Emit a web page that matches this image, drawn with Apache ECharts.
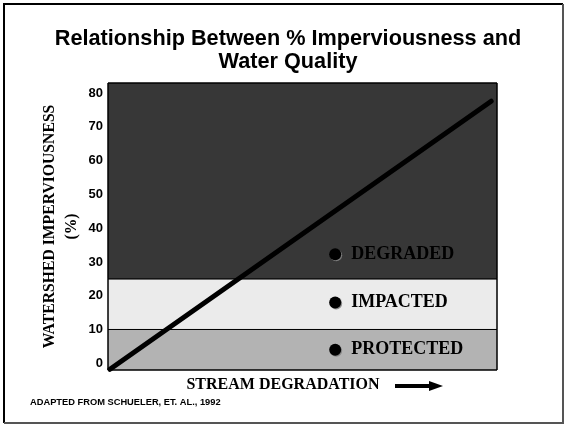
<!DOCTYPE html>
<html><head><meta charset="utf-8">
<script src="https://cdn.jsdelivr.net/npm/echarts@6/dist/echarts.min.js"></script>
<style>html,body{margin:0;padding:0;background:#fff}#c{width:565px;height:424px}</style>
</head><body><div id="c"></div>
<script>
// Zone bands (watershed imperviousness %)
const zoneNames = ['PROTECTED', 'IMPACTED', 'DEGRADED'];
const zoneFrom = [-2, 10, 25];
const zoneTo = [10, 25, 83];
const zoneColors = ['#b3b3b3', '#ebebeb', '#373737'];
// Label bullets (x position along stream degradation, y %)
const bulletX = [58.4, 58.4, 58.4];
const bulletY = [4, 18, 32.3];
// Trend line
const lineX = [0.5, 98.5];
const lineY = [-1.8, 77.6];
// Tick labels
const yTicks = [0, 10, 20, 30, 40, 50, 60, 70, 80];

const chart = echarts.init(document.getElementById('c'), null, {renderer: 'canvas'});
const times = '"Liberation Serif", "DejaVu Serif", serif';
const arial = '"Liberation Sans", Arial, sans-serif';

chart.setOption({
  animation: false,
  title: {
    text: 'Relationship Between % Imperviousness and\nWater Quality',
    left: 283, top: 23, textAlign: 'center',
    textStyle: {fontFamily: arial, fontWeight: 'bold', fontSize: 21.7, lineHeight: 23, color: '#000'}
  },
  grid: {left: 108, top: 83, right: 68, bottom: 54, show: true, borderColor: '#000', borderWidth: 1, z: 5},
  xAxis: {
    type: 'value', min: 0, max: 100,
    axisLine: {show: false}, axisTick: {show: false}, axisLabel: {show: false}, splitLine: {show: false},
    name: 'STREAM DEGRADATION', nameLocation: 'middle', nameGap: 7, nameMoveOverlap: false,
    nameTextStyle: {fontFamily: times, fontWeight: 'bold', fontSize: 16, color: '#000', padding: [0, 39, 0, 0]}
  },
  yAxis: {
    type: 'value', min: -2, max: 83,
    axisLine: {show: false}, axisTick: {show: false}, splitLine: {show: false},
    axisLabel: {customValues: yTicks, fontFamily: arial, fontWeight: 'bold', fontSize: 13, color: '#000', margin: 5},
    name: 'WATERSHED IMPERVIOUSNESS\n(%)', nameLocation: 'middle', nameRotate: 90, nameGap: 25, nameMoveOverlap: false,
    nameTextStyle: {fontFamily: times, fontWeight: 'bold', fontSize: 15.7, lineHeight: 22, color: '#000'}
  },
  series: [
    {
      type: 'line', data: [], z: 1,
      markArea: {
        silent: true,
        itemStyle: {borderColor: '#000', borderWidth: 1},
        data: zoneNames.map((n, i) => [
          {yAxis: zoneFrom[i], itemStyle: {color: zoneColors[i], borderColor: '#000', borderWidth: 1}},
          {yAxis: zoneTo[i]}
        ])
      }
    },
    {
      type: 'line', z: 3, clip: false, symbol: 'none',
      data: lineX.map((x, i) => [x, lineY[i]]),
      lineStyle: {color: '#000', width: 5, cap: 'round'}
    },
    {
      type: 'scatter', z: 4, symbol: 'circle', symbolSize: 12,
      data: zoneNames.map((n, i) => ({value: [bulletX[i], bulletY[i]], name: n})),
      itemStyle: {color: '#000', opacity: 1, shadowColor: 'rgba(130,130,130,0.9)', shadowOffsetX: 1, shadowOffsetY: 1},
      label: {
        show: true, position: 'right', distance: 10, formatter: p => p.name,
        fontFamily: times, fontWeight: 'bold', fontSize: 18, color: '#000',
        textShadowColor: 'rgba(120,120,120,0.8)', textShadowOffsetX: 1, textShadowOffsetY: 1
      }
    }
  ],
  graphic: [
    {type: 'polyline', shape: {points: [[4, 423], [4, 4], [563, 4]]}, style: {stroke: '#000', lineWidth: 2, fill: null}},
    {type: 'polyline', shape: {points: [[563, 4], [563, 423], [4, 423]]}, style: {stroke: '#555', lineWidth: 2, fill: null}},
    {type: 'rect', shape: {x: 395, y: 384, width: 36, height: 4}, style: {fill: '#000'}},
    {type: 'polygon', shape: {points: [[429, 381], [443, 386], [429, 391]]}, style: {fill: '#000'}},
    {type: 'text', left: 30, top: 398,
     style: {text: 'ADAPTED FROM SCHUELER, ET. AL., 1992', font: 'bold 9.3px "Liberation Sans", Arial, sans-serif', fill: '#000'}}
  ]
});
</script></body></html>
